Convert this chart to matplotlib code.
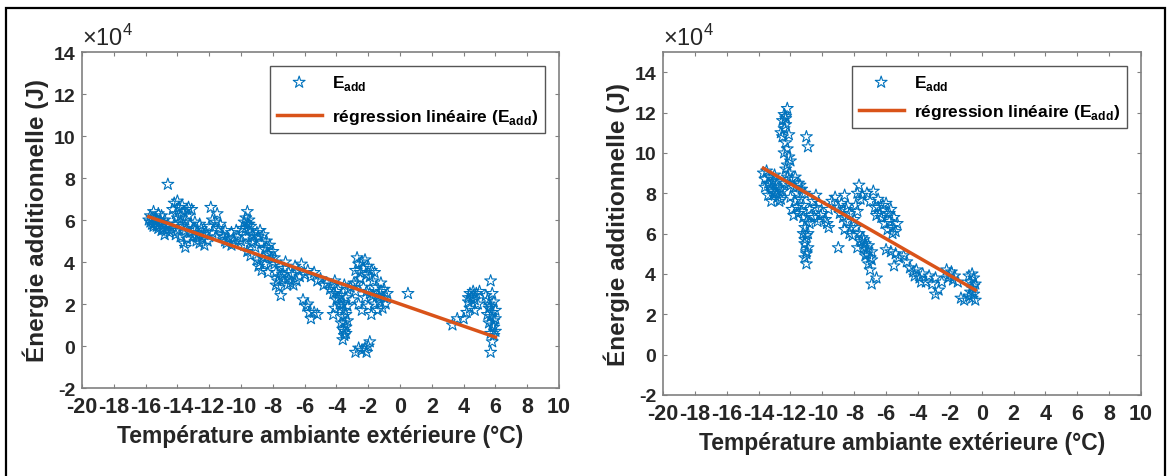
import numpy as np
import matplotlib
matplotlib.use('Agg')
import matplotlib.pyplot as plt
from matplotlib.patches import Rectangle

plt.rcParams['font.family'] = ['Liberation Sans', 'DejaVu Sans']
plt.rcParams['mathtext.fontset'] = 'custom'
plt.rcParams['mathtext.rm'] = 'Liberation Sans'
plt.rcParams['mathtext.bf'] = 'Liberation Sans:bold'
plt.rcParams['axes.unicode_minus'] = False

# panneau gauche : temperature (°C) / energie additionnelle (x1e4 J)
temp_g = [-15.8, -15.7, -15.6, -15.5, -15.4, -15.3, -15.2, -15.1, -15.0, -14.9, -14.8, -14.7, -14.6, -14.5,
          -15.6, -15.4, -15.2, -15.0, -14.8, -15.7, -15.5, -15.3,
          -14.6,
          -14.3, -14.2, -14.1, -14.0, -13.9, -13.8, -13.7, -13.6, -13.5, -13.4, -13.3, -13.2, -13.1, -13.0,
          -14.2, -14.0, -13.8, -13.6, -13.5, -13.4, -13.2, -14.4, -14.1, -13.7, -13.0, -13.3,
          -12.9, -12.8, -12.7, -12.6, -12.5, -12.4, -12.3, -12.2, -12.1, -12.0, -12.6, -12.9, -12.3,
          -11.9, -11.5, -11.6, -11.8,
          -11.8, -11.6, -11.4, -11.2, -11.0, -10.8, -10.6, -10.4, -10.2, -10.0, -11.0, -10.6, -11.3, -10.3,
          -9.9, -9.8, -9.7, -9.6, -9.5, -9.4, -9.3, -9.5, -9.7, -9.8, -9.6, -9.4, -9.2, -9.0, -9.1, -9.3, -9.6,
          -8.9, -8.8, -8.7, -8.6, -8.5, -8.4, -8.3, -8.2, -8.1, -8.0, -8.8, -8.7, -8.5, -8.3, -8.6, -9.0, -8.9,
          -7.9, -7.8, -7.7, -7.6, -7.5, -7.4, -7.3, -7.2, -7.0, -6.9, -6.8, -6.6, -6.5, -6.4, -6.2, -6.0,
          -7.8, -7.6, -7.1, -6.7, -7.9, -7.5,
          -6.1, -5.9, -5.7, -5.6, -5.4, -5.2, -5.8,
          -5.8, -5.6, -5.4, -5.2, -5.0, -4.8, -4.6, -4.4,
          -4.3, -4.2, -4.1, -4.0, -3.9, -3.8, -4.1, -4.2,
          -3.7, -3.6, -3.5, -3.6, -3.5, -3.6, -3.5, -3.6, -3.4, -3.4, -3.3, -3.4, -3.3, -3.4, -3.3, -3.7, -3.5,
          -3.0, -2.9, -2.8, -2.7, -2.6, -2.5, -2.4, -2.3, -2.2, -2.1, -2.0, -1.9, -1.8, -1.7, -1.6,
          -2.8, -2.6, -2.4, -2.2, -2.0, -1.8, -1.6, -2.7, -2.3, -1.9, -3.1,
          -2.8, -2.6, -2.4, -2.2, -2.0, -1.9, -2.1,
          -1.5, -1.4, -1.3, -1.2, -1.1, -1.0, -0.9, -0.8, -1.4, -1.2,
          0.5,
          3.3, 3.6, 4.0, 4.2, 4.3, 4.4, 4.5, 4.6, 4.7, 4.8, 4.9, 4.4, 5.0, 4.7,
          5.5, 5.6, 5.7, 5.8, 5.7, 5.8, 5.7, 5.9, 5.9, 6.0, 6.0, 5.9, 5.8, 5.7, 5.6, 5.8, 6.0, 5.5, 5.4,
          # points supplementaires dans les zones denses
          -15.5, -15.1, -14.9, -14.7, -14.0, -13.8, -13.5, -12.8, -12.4, -11.1, -10.9, -10.5, -9.7, -9.5,
          -9.2, -8.4, -8.0, -7.4, -7.0, -6.3, -4.0, -3.9, -3.7, -3.5, -2.5, -2.1, -1.7, -1.3, -1.0,
          5.7, 5.9, 5.6, 4.6, 4.3]
e_add_g = [6.0, 6.2, 5.8, 6.4, 6.1, 5.7, 6.3, 5.9, 6.2, 5.6, 6.0, 5.5, 5.8, 5.4,
           6.1, 5.9, 5.6, 5.5, 5.3, 5.9, 5.7, 6.0,
           7.7,
           6.5, 6.8, 6.3, 6.9, 6.6, 6.2, 6.7, 6.4, 6.0, 6.5, 6.2, 5.8, 6.5, 5.6,
           5.8, 5.5, 5.2, 4.9, 4.7, 5.1, 5.4, 5.6, 5.3, 5.7, 5.2, 6.6,
           5.5, 5.0, 5.3, 4.9, 5.6, 5.1, 4.8, 5.4, 5.0, 5.7, 5.8, 5.9, 5.3,
           6.6, 6.3, 5.9, 6.0,
           5.4, 5.2, 5.6, 5.3, 5.5, 5.1, 5.4, 4.9, 5.2, 5.0, 5.0, 4.8, 5.8, 5.5,
           5.6, 5.9, 6.1, 6.4, 6.0, 5.7, 5.3, 5.5, 5.2, 4.8, 4.5, 4.3, 5.0, 5.4, 4.7, 4.9, 5.8,
           5.2, 5.5, 4.9, 5.3, 4.6, 5.0, 4.4, 4.8, 4.2, 4.5, 4.0, 3.6, 3.9, 3.5, 4.2, 4.1, 3.8,
           3.9, 3.5, 3.1, 2.8, 2.4, 3.2, 3.7, 4.0, 3.5, 3.0, 3.4, 3.8, 3.1, 3.6, 3.9, 3.4,
           2.9, 3.3, 2.9, 2.9, 4.2, 3.8,
           2.2, 1.9, 1.6, 1.3, 1.6, 1.5, 2.0,
           3.6, 3.3, 3.5, 3.1, 3.2, 2.9, 3.0, 2.7,
           2.9, 2.5, 3.1, 2.2, 2.7, 2.0, 1.8, 1.5,
           2.4, 2.0, 1.7, 1.4, 1.1, 0.8, 0.5, 0.3, 0.6, 0.9, 1.2, 1.5, 1.9, 2.3, 2.7, 1.1, 2.9,
           2.2, 3.0, 3.6, 4.2, 3.9, 3.5, 4.0, 3.7, 4.1, 3.4, 3.8, 3.3, 3.6, 3.1, 3.5,
           2.6, 2.0, 1.7, 2.3, 1.9, 1.5, 2.0, 3.0, 2.8, 2.5, 2.8,
           -0.3, -0.1, -0.2, -0.1, 0.0, 0.2, -0.3,
           2.8, 2.4, 2.1, 2.6, 1.8, 2.3, 2.0, 2.5, 1.7, 3.0,
           2.5,
           1.0, 1.3, 1.3, 1.6, 2.1, 2.5, 2.3, 2.6, 2.2, 2.5, 2.0, 1.8, 2.6, 1.7,
           2.2, 1.8, 1.4, 1.0, 0.6, 0.2, -0.3, 0.5, 0.9, 1.3, 1.7, 2.1, 2.5, 3.1, 1.1, 1.6, 0.7, 1.5, 2.4,
           5.8, 6.0, 5.8, 5.7, 6.1, 5.9, 5.5, 5.2, 5.4, 5.2, 4.9, 5.1, 5.6, 5.8,
           5.2, 4.7, 4.0, 3.4, 3.2, 3.3, 2.6, 2.3, 1.9, 0.7, 3.2, 2.6, 2.4, 2.3, 2.7,
           1.9, 1.2, 2.0, 2.4, 2.3]

# panneau droit
temp_d = [-13.7, -13.6, -13.5, -13.4, -13.3, -13.2, -13.1, -13.0, -12.9, -12.8, -12.7, -12.6, -13.4, -13.2,
          -13.0, -12.8, -13.6, -12.7, -12.5,
          -12.6, -12.5, -12.4, -12.3, -12.2, -12.3, -12.4, -12.5, -12.3, -12.2, -12.1, -12.2, -12.1, -12.0,
          -12.2, -12.0, -12.4, -12.1, -12.3,
          -11.0, -10.9,
          -11.9, -11.8, -11.7, -11.6, -11.5, -11.4, -11.3, -11.2, -11.9, -11.7, -11.5, -11.8, -11.3, -12.0, -11.1,
          -11.2, -11.1, -11.0, -11.1, -11.0, -11.1, -11.0, -10.9, -10.9, -11.2, -10.8, -11.0,
          -10.8, -10.6, -10.4, -10.2, -10.0, -9.8, -10.5, -10.3, -10.1, -9.6, -9.4, -9.2, -9.0, -10.7, -9.7,
          -9.6, -9.0,
          -8.9, -8.8, -8.6, -8.4, -8.3, -8.5, -8.7, -8.2, -8.0, -7.9, -7.8, -7.7, -7.6, -7.8, -8.1, -8.3, -8.6, -7.5,
          -7.7, -7.6, -7.5, -7.4, -7.3, -7.2, -7.1, -7.0, -7.1, -7.0, -6.9, -6.9, -6.6, -7.8, -7.3, -6.9,
          -7.2, -7.0, -6.8, -6.7, -6.5, -6.4, -6.2, -6.0, -5.9, -5.8, -5.7, -5.6, -5.5, -5.4, -5.3, -5.6, -6.1,
          -6.3, -5.9, -6.6,
          -6.0, -5.7, -5.4, -5.2, -5.5, -4.9, -4.7,
          -4.5, -4.3, -4.1, -3.9, -3.7, -3.5, -3.3, -3.1, -2.9, -3.8, -4.2, -2.9, -2.7, -2.5,
          -2.2, -2.0, -1.9, -1.8, -1.7, -1.5, -2.1,
          -1.3, -1.1, -0.8, -0.7, -0.6, -0.5, -0.6, -0.4, -0.5, -0.7, -0.4, -0.8, -0.6,
          # points supplementaires dans les zones denses
          -13.3, -13.1, -12.9, -12.6, -12.4, -12.3, -11.6, -11.4, -11.1, -11.0, -10.4, -8.5, -7.9, -7.4,
          -7.2, -6.5, -5.8, -0.5]
e_add_d = [9.0, 8.7, 9.1, 8.5, 8.8, 8.2, 8.6, 8.0, 8.4, 7.8, 8.3, 7.7, 7.9, 7.6,
           8.9, 8.6, 8.3, 7.6, 8.1,
           11.0, 11.6, 11.9, 11.4, 12.2, 11.8, 11.2, 10.8, 10.5, 10.2, 9.8, 9.4, 9.0, 9.6,
           8.8, 8.4, 10.0, 10.9, 9.2,
           10.8, 10.3,
           8.7, 8.3, 8.8, 8.0, 8.5, 7.7, 8.2, 7.4, 7.2, 7.6, 7.0, 6.9, 7.1, 7.8, 8.0,
           6.8, 6.3, 5.9, 5.5, 5.1, 4.8, 4.5, 5.3, 6.0, 6.0, 6.5, 6.6,
           7.2, 7.6, 7.9, 7.5, 7.0, 6.7, 6.8, 6.6, 6.9, 7.2, 7.6, 7.8, 7.3, 6.9, 6.5,
           6.3, 5.3,
           7.0, 7.5, 7.9, 7.4, 7.0, 6.6, 6.8, 6.3, 6.7, 7.4, 8.0, 8.4, 7.7, 7.1, 5.9, 6.0, 6.2, 7.9,
           6.0, 5.6, 5.8, 5.3, 5.5, 5.0, 5.4, 4.8, 4.5, 4.2, 4.7, 3.5, 3.8, 5.3, 4.9, 5.1,
           8.0, 7.6, 8.1, 7.3, 7.7, 7.0, 7.4, 7.5, 7.0, 6.6, 7.2, 6.3, 6.8, 6.1, 6.5, 6.0, 6.5,
           6.8, 6.2, 6.9,
           5.2, 5.1, 5.0, 4.8, 4.4, 4.9, 4.6,
           4.3, 4.1, 4.2, 3.8, 4.0, 3.6, 3.9, 3.5, 3.8, 3.6, 3.9, 3.0, 3.2, 3.6,
           4.2, 4.0, 4.1, 3.7, 3.9, 3.6, 3.8,
           2.8, 2.7, 3.9, 3.6, 3.3, 3.0, 2.8, 2.7, 3.8, 3.1, 3.5, 2.9, 4.0,
           8.4, 8.1, 8.0, 8.2, 8.5, 11.7, 7.3, 8.4, 5.7, 5.0, 7.3, 7.2, 6.3, 5.7,
           5.2, 7.3, 7.0, 3.4]

# regression lineaire (pente, ordonnee a l'origine)
reg_g = (-0.263, 2.0)
reg_d = (-0.454, 3.02)

xticks = np.arange(-20, 11, 2)
yticks = np.arange(-2, 15, 2)

fig = plt.figure(figsize=(11.7, 4.77), dpi=100)
fig.add_artist(Rectangle((6 / 1170, -0.05), 1159 / 1170, 1 - 9 / 477 + 0.05,
                         transform=fig.transFigure, fill=False, edgecolor='black', lw=1.6))

panneaux = [
    ([82 / 1170, 1 - 389 / 477, 477 / 1170, 336 / 477], temp_g, e_add_g, reg_g, 14, 0.85),
    ([663 / 1170, 1 - 396 / 477, 478 / 1170, 343 / 477], temp_d, e_add_d, reg_d, 15, 0.6),
]

for pos, tx, ey, reg, ymax, lsp in panneaux:
    ax = fig.add_axes(pos)
    ax.scatter(tx, ey, marker='*', s=80, facecolors='none', edgecolors='#0072BD',
               linewidths=0.8, label=r'E$_{\mathbf{add}}$', zorder=2)
    xr = np.array([min(tx), max(tx)])
    ax.plot(xr, reg[0] * xr + reg[1], color='#D95319', lw=2.5,
            label=r'régression linéaire (E$_{\mathbf{add}}$)', zorder=3)
    ax.set_xlim(-20, 10)
    ax.set_ylim(-2, ymax)
    ax.set_xticks(xticks)
    ax.set_yticks(yticks)
    ax.tick_params(axis='x', labelsize=15.5, pad=6)
    ax.tick_params(axis='y', labelsize=14, pad=5)
    ax.tick_params(direction='in', top=True, right=True, length=3, width=0.8,
                   colors='#808080', labelcolor='#262626')
    for lab in ax.get_xticklabels() + ax.get_yticklabels():
        lab.set_fontweight('bold')
    for sp in ax.spines.values():
        sp.set_color('#808080')
        sp.set_linewidth(1.2)
    ax.set_xlabel('Température ambiante extérieure (°C)', fontsize=16.5, fontweight='bold',
                  color='#262626', labelpad=5)
    ax.set_ylabel('Énergie additionnelle (J)', fontsize=17.5, fontweight='bold',
                  color='#262626', labelpad=3)
    ax.text(0.0, 1.005, r'$\times10^{4}$', transform=ax.transAxes, fontsize=17,
            color='#262626', va='bottom', ha='left')
    leg = ax.legend(loc='upper right', prop={'weight': 'bold', 'size': 12.5},
                    fancybox=False, framealpha=1, edgecolor='#555555', handlelength=2.6,
                    borderaxespad=0.8, labelspacing=lsp, handletextpad=0.6)
    leg.get_frame().set_linewidth(1.0)

fig.savefig('out.png', dpi=100)
